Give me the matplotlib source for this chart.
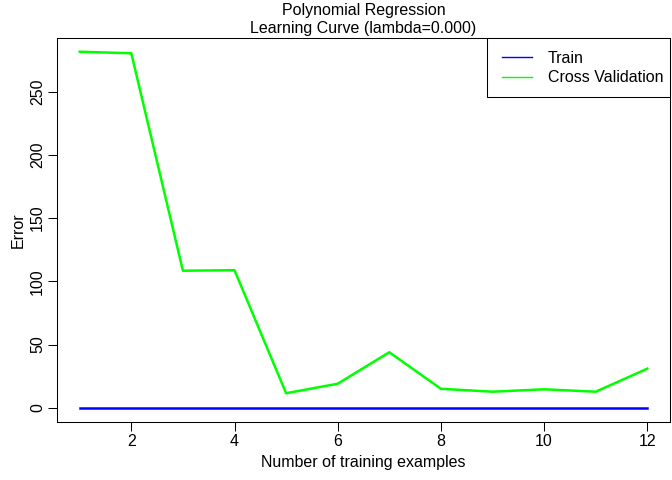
import matplotlib
matplotlib.use("Agg")
import matplotlib.pyplot as plt
from matplotlib.lines import Line2D
from matplotlib.patches import Rectangle

plt.rcParams['font.family'] = ['Liberation Sans', 'DejaVu Sans']

examples = list(range(1, 13))
train_err = [0.0, 0.0, 0.0, 0.0, 0.0, 0.0, 0.0, 0.0, 0.0, 0.0, 0.0, 0.0]
cv_err = [281.6, 280.4, 108.4, 108.8, 11.5, 19.0, 43.9, 15.0, 12.7, 14.6, 12.7, 30.9]
title_lines = ["Polynomial Regression", "Learning Curve (lambda=0.000)"]
xticks = [2, 4, 6, 8, 10, 12]
yticks = [0, 50, 100, 150, 200, 250]

W, H = 672, 480
fig = plt.figure(figsize=(6.72, 4.8), dpi=100)
ax = fig.add_axes([57/W, 1-422/H, (670-57)/W, (422-37.5)/H])

fs = 11.5
ax.plot(examples, train_err, color='#0000ff', lw=1.8)
ax.plot(examples, cv_err, color='#00ff00', lw=1.8)

allv = train_err + cv_err
lo, hi = min(allv), max(allv)
pad = 0.04 * (hi - lo)
ax.set_ylim(lo - pad, hi + pad)
xpad = 0.04 * (max(examples) - min(examples))
ax.set_xlim(min(examples) - xpad, max(examples) + xpad)

ax.set_xticks(xticks)
ax.set_yticks(yticks)
ax.tick_params(direction='out', length=6.5, width=0.75, labelsize=fs)
ax.tick_params(axis='x', pad=2)
ax.tick_params(axis='y', pad=2)
for lab in ax.get_yticklabels():
    lab.set_rotation(90)
    lab.set_va('center')
for s in ax.spines.values():
    s.set_linewidth(0.75)

fig.text(363.5/W, 1-462/H, "Number of training examples", ha='center', va='center', fontsize=fs)
fig.text(18/W, 1-230/H, "Error", ha='center', va='center', rotation=90, fontsize=fs)
fig.text(363.5/W, 1-10/H, title_lines[0], ha='center', va='center', fontsize=fs)
fig.text(363.5/W, 1-29/H, title_lines[1], ha='center', va='center', fontsize=fs)

# legend frame
frame = Rectangle((487/W, 1-97/H), (670-487)/W, (97-38)/H, transform=fig.transFigure,
                  facecolor='white', edgecolor='black', lw=0.75, zorder=4, clip_on=False)
fig.add_artist(frame)
handles = [Line2D([], [], color='#0000ff', lw=1.0), Line2D([], [], color='#00ff00', lw=1.0)]
leg = fig.legend(handles, ["Train", "Cross Validation"], loc='upper left',
                 bbox_to_anchor=(502/W, 1-51/H), fontsize=fs, frameon=False,
                 borderaxespad=0, borderpad=0, handlelength=1.875, handletextpad=1.0,
                 labelspacing=0.26)
leg.set_zorder(5)

fig.savefig("out.png", dpi=100)
